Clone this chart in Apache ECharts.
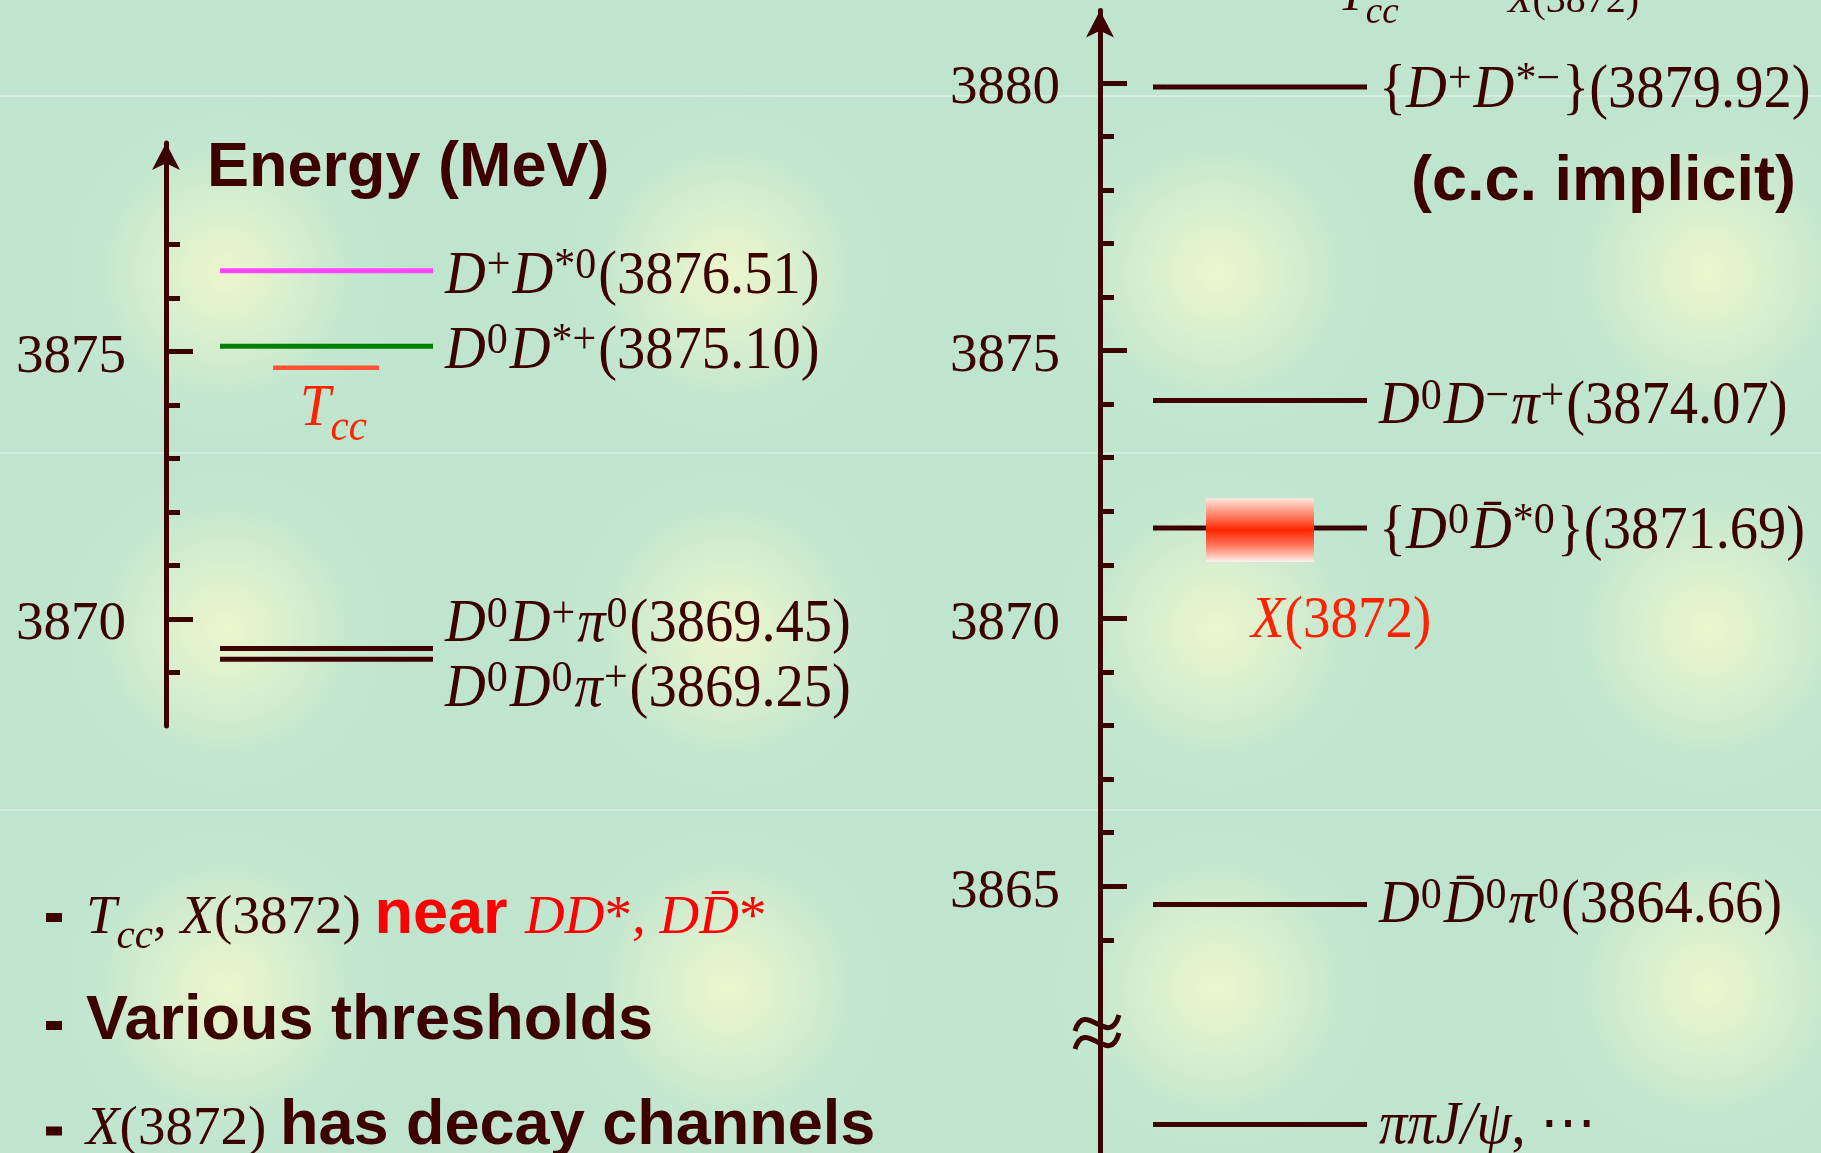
<!DOCTYPE html>
<html>
<head>
<meta charset="utf-8">
<script src="https://cdn.jsdelivr.net/npm/echarts@6/dist/echarts.min.js"></script>
<style>
html,body{margin:0;padding:0;overflow:hidden;}
#chart{width:1821px;height:1153px;background-color:#bfe5cf;}
</style>
</head>
<body>
<div id="chart"></div>
<script>
// ---------------- DATA ----------------
// Left diagram (T_cc): open-charm thresholds, MeV
const leftMasses = [3876.51, 3875.10, 3869.45, 3869.25];
const leftLabels = [
  '{m|D}{sup|+}{m|D}{sup|*0}',
  '{m|D}{sup|0}{m|D}{sup|*+}',
  '{m|D}{sup|0}{m|D}{sup|+}{m|π}{sup|0}',
  '{m|D}{sup|0}{m|D}{sup|0}{m|π}{sup|+}'
];
const tccMass = 3874.70;
const leftMajorTicks = [3870, 3875];
const leftMinorTicks = [3869, 3871, 3872, 3873, 3874, 3876, 3877];

// Right diagram (X(3872)): thresholds, MeV (last one drawn below the axis break)
const rightMasses = [3879.92, 3874.07, 3871.69, 3864.66, 3860.55];
const rightLabels = [
  '{{m|D}{sup|+}{m|D}{sup|*−}}',
  '{m|D}{sup|0}{m|D}{sup|−}{m|π}{sup|+}',
  '{{m|D}{sup|0}{m|D̄}{sup|*0}}',
  '{m|D}{sup|0}{m|D̄}{sup|0}{m|π}{sup|0}',
  '{m|ππJ/ψ}, ⋯'
];
const rightMassShown = [true, true, true, true, false];
const x3872Mass = 3871.65;
const x3872Width = 1.19;
const rightMajorTicks = [3865, 3870, 3875, 3880];
const rightMinorTicks = [3864, 3866, 3867, 3868, 3869, 3871, 3872, 3873, 3874, 3876, 3877, 3878, 3879];

// ---------------- STYLE ----------------
const DARK = '#3d0000';
const RED = '#ff2200';
const PURE_RED = '#ff0000';
const SERIF = 'Liberation Serif';
const SANS = 'Liberation Sans';

// background glows and faint seams (decoration)
(function () {
  const xs = [226, 728, 1217, 1708], ys = [273, 630, 988];
  const layers = [];
  [95, 452, 809].forEach(y => {
    layers.push(`linear-gradient(to bottom, transparent ${y}px, rgba(214,238,224,0.8) ${y}px, rgba(214,238,224,0.8) ${y + 2}px, transparent ${y + 2}px)`);
  });
  ys.forEach(y => xs.forEach(x => {
    layers.push(`radial-gradient(circle 185px at ${x}px ${y}px, rgba(236,246,204,1) 0%, rgba(228,243,206,0.7) 35%, rgba(205,234,208,0.3) 70%, rgba(191,229,207,0) 100%)`);
  }));
  document.getElementById('chart').style.backgroundImage = layers.join(',');
})();

function richSet(color, base) {
  base = base || 56.5;
  const s = Math.round(base * 0.74);
  return {
    m: { fontFamily: SERIF, fontStyle: 'italic', fontSize: base, fill: color },
    n: { fontFamily: SERIF, fontSize: base, fill: color },
    sup: { fontFamily: SERIF, fontSize: s, fill: color, padding: [0, 2, Math.round(base * 0.36), 1] },
    sub: { fontFamily: SERIF, fontStyle: 'italic', fontSize: s, fill: color, padding: [Math.round(base * 0.66), 0, 0, 0] },
    b: { fontFamily: SANS, fontWeight: 'bold', fontSize: 63, fill: color },
    bp: { fontFamily: SANS, fontWeight: 'bold', fontSize: 63, fill: color, padding: [0, 0, 6, 0] },
    br: { fontFamily: SANS, fontWeight: 'bold', fontSize: 63, fill: PURE_RED, padding: [0, 0, 6, 0] },
    ri: { fontFamily: SERIF, fontStyle: 'italic', fontSize: base, fill: PURE_RED },
    r: { fontFamily: SERIF, fontSize: base, fill: PURE_RED },
    mr: { fontFamily: SERIF, fontStyle: 'italic', fontSize: base, fill: RED },
    subr: { fontFamily: SERIF, fontStyle: 'italic', fontSize: s, fill: RED, padding: [Math.round(base * 0.66), 0, 0, 0] }
  };
}
const RICH = richSet(DARK, 56.5);
const RICH55 = richSet(DARK, 55);

const leftColors = ['#ff44ff', '#008000', DARK, DARK];
const leftLabelDy = [6, 6, -23, 31];
const rightColors = [DARK, DARK, DARK, DARK, DARK];
const rightLabelDy = [4, 7, 4, 2, 3];

function levelSeries(idx, masses, labels, shown, colors, dys, xr) {
  return {
    type: 'custom', xAxisIndex: idx, yAxisIndex: idx * 2, clip: false, silent: true, z: 5,
    data: masses.map((m, i) => [i, m]),
    renderItem(params, api) {
      const i = params.dataIndex;
      const m = api.value(1);
      const a = api.coord([xr[0], m]);
      const b = api.coord([xr[1], m]);
      const txt = labels[i] + (shown[i] ? '(' + m.toFixed(2) + ')' : '');
      return {
        type: 'group', children: [
          { type: 'line', shape: { x1: a[0], y1: a[1], x2: b[0], y2: b[1] }, style: { stroke: colors[i], lineWidth: 5 } },
          { type: 'text', x: b[0] + 12, y: a[1] + dys[i], scaleY: 1.07,
            style: { text: txt, rich: RICH, fontFamily: SERIF, fontSize: 56.5, fill: DARK, align: 'left', verticalAlign: 'middle' } }
        ]
      };
    }
  };
}

function yAxes(grid, min, max, major, minor) {
  return [{
    gridIndex: grid, type: 'value', min: min, max: max, position: 'left',
    axisLine: { show: true, onZero: false, symbol: ['none', 'arrow'], symbolSize: [21, 27],
      lineStyle: { color: DARK, width: 5 } },
    axisTick: { show: true, inside: true, length: 27, customValues: major, lineStyle: { color: DARK, width: 5 } },
    axisLabel: { show: true, customValues: major, margin: 40, color: DARK, fontFamily: SERIF, fontSize: 55,
      formatter: v => '{t|' + String(v) + '}',
      rich: { t: { fontFamily: SERIF, fontSize: 55, color: DARK, padding: [12, 0, 0, 0] } } },
    splitLine: { show: false }, minorTick: { show: false }
  }, {
    gridIndex: grid, type: 'value', min: min, max: max, position: 'left',
    axisLine: { show: false, onZero: false },
    axisTick: { show: true, inside: true, length: 14, customValues: minor, lineStyle: { color: DARK, width: 5 } },
    axisLabel: { show: false },
    splitLine: { show: false }
  }];
}

const chart = echarts.init(document.getElementById('chart'), null, { renderer: 'canvas' });

const option = {
  animation: false,
  backgroundColor: 'transparent',
  grid: [
    { left: 166, top: 143, width: 600, height: 583, containLabel: false, outerBoundsMode: 'none' },
    { left: 1100, top: 10.5, width: 600, height: 1143.5, containLabel: false, outerBoundsMode: 'none' }
  ],
  xAxis: [
    { gridIndex: 0, type: 'value', min: 0, max: 600, show: false },
    { gridIndex: 1, type: 'value', min: 0, max: 600, show: false }
  ],
  yAxis: [].concat(
    yAxes(0, 3868, 3878.9, leftMajorTicks, leftMinorTicks),
    yAxes(1, 3860, 3881.35, rightMajorTicks, rightMinorTicks)
  ),
  series: [
    levelSeries(0, leftMasses, leftLabels, [true, true, true, true], leftColors, leftLabelDy, [54, 267]),
    {
      type: 'custom', xAxisIndex: 0, yAxisIndex: 0, clip: false, silent: true, z: 6,
      data: [[0, tccMass]],
      renderItem(params, api) {
        const m = api.value(1);
        const a = api.coord([107, m]);
        const b = api.coord([213, m]);
        return { type: 'group', children: [
          { type: 'line', shape: { x1: a[0], y1: a[1], x2: b[0], y2: b[1] }, style: { stroke: '#ff5235', lineWidth: 4.5 } },
          { type: 'text', x: a[0] + 27, y: a[1] + 42, scaleY: 1.07,
            style: { text: '{mr|T}{subr|cc}', rich: RICH55, fontFamily: SERIF, fontSize: 55, fill: RED, align: 'left', verticalAlign: 'middle' } }
        ] };
      }
    },
    levelSeries(1, rightMasses, rightLabels, rightMassShown, rightColors, rightLabelDy, [53, 267]),
    {
      type: 'custom', xAxisIndex: 1, yAxisIndex: 2, clip: false, silent: true, z: 7,
      data: [[x3872Mass, x3872Width]],
      renderItem(params, api) {
        const m = api.value(0), w = api.value(1);
        const tl = api.coord([106, m + w / 2]);
        const br = api.coord([214, m - w / 2]);
        const c = api.coord([106, m]);
        return { type: 'group', children: [
          { type: 'rect', shape: { x: tl[0], y: tl[1], width: br[0] - tl[0], height: br[1] - tl[1] },
            style: { fill: { type: 'linear', x: 0, y: 0, x2: 0, y2: 1, colorStops: [
              { offset: 0, color: '#ffe6de' }, { offset: 0.25, color: '#ff8a70' },
              { offset: 0.5, color: '#ff2500' }, { offset: 0.75, color: '#ff7a60' },
              { offset: 1, color: '#fff2ee' } ] } } },
          { type: 'text', x: c[0] + 45, y: c[1] + 92, scaleY: 1.07,
            style: { text: '{mr|X}(3872)', rich: RICH55, fontFamily: SERIF, fontSize: 55, fill: RED, align: 'left', verticalAlign: 'middle' } }
        ] };
      }
    }
  ],
  graphic: [
    { type: 'text', x: 207, y: 169, style: { text: 'Energy (MeV)', fontFamily: SANS, fontWeight: 'bold', fontSize: 63, fill: DARK, align: 'left', textAlign: 'left', verticalAlign: 'middle', textVerticalAlign: 'middle' } },
    { type: 'text', x: 1796, y: 183, style: { text: '(c.c. implicit)', fontFamily: SANS, fontWeight: 'bold', fontSize: 63, fill: DARK, align: 'right', textAlign: 'right', verticalAlign: 'middle', textVerticalAlign: 'middle' } },
    // clipped fragments of the slide title
    { type: 'text', x: 1338, y: -3, style: { text: '{m|T}{sub|cc}', rich: richSet(DARK, 50), fontFamily: SERIF, fontSize: 50, fill: DARK, align: 'left', verticalAlign: 'middle' } },
    { type: 'text', x: 1508, y: 1.5, style: { text: '{m|X}{n|(3872)}', rich: richSet(DARK, 40), fontFamily: SERIF, fontSize: 40, fill: DARK, align: 'left', verticalAlign: 'middle' } },
    // bullets
    { type: 'rect', shape: { x: 46, y: 913, width: 16, height: 9 }, style: { fill: DARK } },
    { type: 'rect', shape: { x: 46, y: 1021, width: 16, height: 9 }, style: { fill: DARK } },
    { type: 'rect', shape: { x: 46, y: 1126.5, width: 16, height: 9 }, style: { fill: DARK } },
    { type: 'text', x: 86, y: 919, style: { text: '{m|T}{sub|cc}{n|, }{m|X}{n|(3872) }{br|near }{ri|DD}{r|*}{ri|, DD̄}{r|*}', rich: RICH55, fontFamily: SERIF, fontSize: 55, fill: DARK, align: 'left', verticalAlign: 'middle' } },
    { type: 'text', x: 86, y: 1022, style: { text: '{b|Various thresholds}', rich: RICH55, fontFamily: SANS, fontSize: 63, fill: DARK, align: 'left', verticalAlign: 'middle' } },
    { type: 'text', x: 86, y: 1130, style: { text: '{m|X}{n|(3872) }{bp|has decay channels}', rich: RICH55, fontFamily: SERIF, fontSize: 55, fill: DARK, align: 'left', verticalAlign: 'middle' } },
    // axis break mark
    { type: 'bezierCurve', shape: { x1: 1075, y1: 1031, cpx1: 1085, cpy1: 998, cpx2: 1109, cpy2: 1050, x2: 1119, y2: 1015 }, style: { stroke: DARK, lineWidth: 5, fill: null } },
    { type: 'bezierCurve', shape: { x1: 1075, y1: 1049, cpx1: 1085, cpy1: 1016, cpx2: 1109, cpy2: 1068, x2: 1119, y2: 1033 }, style: { stroke: DARK, lineWidth: 5, fill: null } }
  ]
};
chart.setOption(option);
</script>
</body>
</html>
